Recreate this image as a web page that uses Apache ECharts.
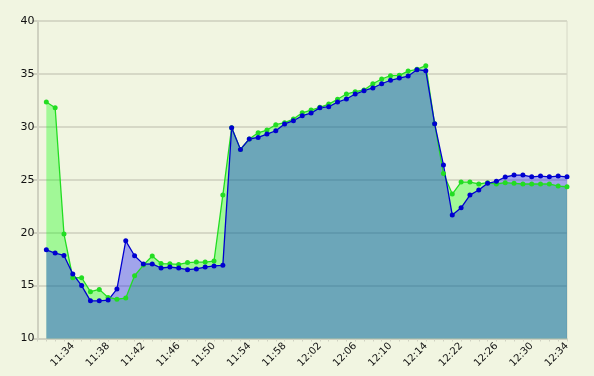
<!DOCTYPE html>
<html><head><meta charset="utf-8">
<script src="https://cdn.jsdelivr.net/npm/echarts@6/dist/echarts.min.js"></script>
<style>html,body{margin:0;padding:0;background:#f1f5e1;}#c{width:594px;height:376px;}</style>
</head><body><div id="c"></div>
<script>
const times = ['11:31','11:32','11:33','11:34','11:35','11:36','11:37','11:38','11:39','11:40',
'11:41','11:42','11:43','11:44','11:45','11:46','11:47','11:48','11:49','11:50',
'11:51','11:52','11:53','11:54','11:55','11:56','11:57','11:58','11:59','12:00',
'12:01','12:02','12:03','12:04','12:05','12:06','12:07','12:08','12:09','12:10',
'12:11','12:12','12:13','12:14','12:16','12:18','12:20','12:22','12:23','12:24',
'12:25','12:26','12:27','12:28','12:29','12:30','12:31','12:32','12:33','12:34'];
const greenSeries = [32.34,31.81,19.87,15.74,15.74,14.42,14.64,13.88,13.72,13.82,
15.93,16.94,17.79,17.08,17.06,17.0,17.17,17.22,17.22,17.32,
23.55,29.92,27.87,28.85,29.44,29.7,30.2,30.39,30.74,31.33,
31.59,31.84,32.15,32.6,33.1,33.32,33.48,34.07,34.52,34.83,
34.87,35.27,35.43,35.78,30.3,25.6,23.65,24.78,24.78,24.6,
24.72,24.6,24.72,24.66,24.6,24.6,24.6,24.6,24.4,24.34];
const blueSeries = [18.38,18.07,17.85,16.1,15.0,13.56,13.56,13.63,14.67,19.23,
17.82,17.03,17.05,16.66,16.75,16.66,16.5,16.57,16.75,16.86,
16.91,29.92,27.87,28.85,29.0,29.32,29.63,30.27,30.58,31.05,
31.3,31.8,31.9,32.34,32.63,33.1,33.41,33.67,34.07,34.4,
34.61,34.8,35.4,35.3,30.3,26.4,21.66,22.35,23.55,24.03,
24.66,24.85,25.26,25.44,25.44,25.28,25.35,25.28,25.35,25.28];
const yTicks = {min:10, max:40, step:5};

const chart = echarts.init(document.getElementById('c'));
chart.setOption({
  backgroundColor:'#f1f5e1',
  animation:false,
  grid:{left:37.5, right:27, top:21, bottom:37.5, show:true, borderColor:'#d6d8c6', borderWidth:1, backgroundColor:'transparent'},
  xAxis:{
    type:'category', boundaryGap:false, data:[''].concat(times),
    axisLine:{lineStyle:{color:'#cfd1c0', width:2}},
    axisTick:{interval:0, length:3, lineStyle:{color:'#d0d2c2'}},
    axisLabel:{interval:3, rotate:45, color:'#111', fontFamily:'DejaVu Sans', fontSize:10, margin:6},
    splitLine:{show:false}
  },
  yAxis:{
    type:'value', min:yTicks.min, max:yTicks.max, interval:yTicks.step,
    axisLine:{show:true, lineStyle:{color:'#cfd1c0', width:2}},
    axisTick:{show:true, length:5, lineStyle:{color:'#cfd1c0', width:2}},
    axisLabel:{color:'#111', fontFamily:'DejaVu Sans', fontSize:11, margin:3},
    splitLine:{lineStyle:{color:'#d6d8c6', width:2}}
  },
  series:[
    {type:'line', data:[null].concat(greenSeries), symbol:'circle', symbolSize:5,
     itemStyle:{color:'#22dd22'}, lineStyle:{color:'#22dd22', width:1.3},
     areaStyle:{color:'rgb(0,255,0)', opacity:0.33}},
    {type:'line', data:[null].concat(blueSeries), symbol:'circle', symbolSize:5,
     itemStyle:{color:'#0000d0'}, lineStyle:{color:'#0000d0', width:1.3},
     areaStyle:{color:'rgb(0,0,255)', opacity:0.33}}
  ]
});
</script></body></html>
